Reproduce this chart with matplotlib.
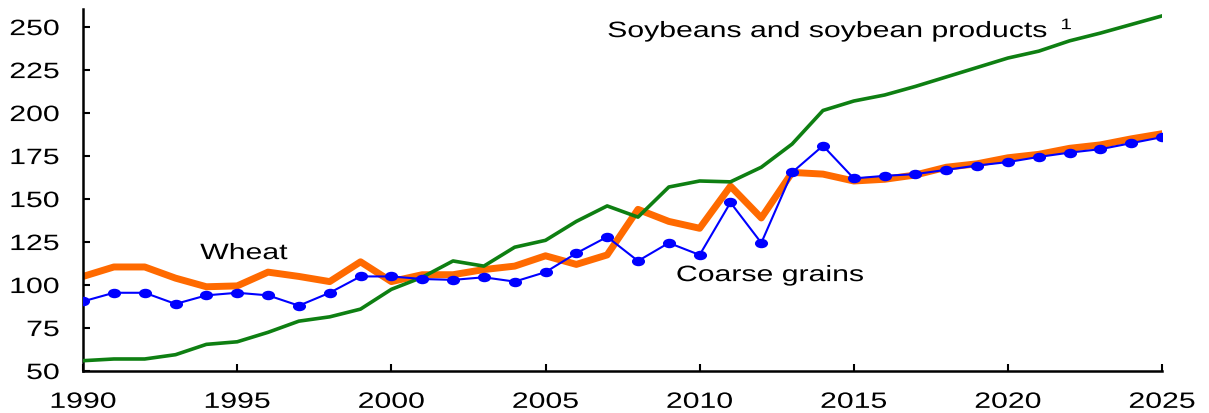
import matplotlib
matplotlib.use('Agg')
import matplotlib.pyplot as plt
from matplotlib import patheffects
from matplotlib.markers import MarkerStyle
from matplotlib.transforms import Affine2D

# data
years = list(range(1990, 2026))
wheat = [105, 110.5, 110.5, 104, 99, 99.5, 107.5, 105, 102, 113.5,
         102, 106, 106, 109, 111, 117, 112, 117.5, 144, 137,
         133, 157.5, 139, 165.5, 164.5, 160.5, 161.5, 164, 168.5, 170.5,
         174, 176, 179.5, 181.5, 185, 188]
coarse = [90.5, 95.5, 95.5, 89, 94, 95.5, 94, 88, 95.5, 105,
          105, 103.5, 103, 104.5, 102, 107.5, 118.5, 128, 114, 124.5,
          117.5, 148, 124.5, 165.5, 181, 162, 163.5, 164.5, 167, 169.5,
          171.5, 174.5, 177, 179, 182.5, 186]
soy = [56, 57, 57, 59.5, 65.5, 67, 72.5, 79, 81.5, 86,
       97.5, 104.5, 114, 111, 122, 126, 137, 146, 139.5, 157,
       160.5, 160, 168.5, 182, 201.5, 207, 210.5, 215.5, 221, 226.5,
       232, 236, 242, 246.5, 251.5, 256.5]

yticks = [50, 75, 100, 125, 150, 175, 200, 225, 250]
xticks = [1990, 1995, 2000, 2005, 2010, 2015, 2020, 2025]


# the original uses a horizontally widened Arial; widen the glyphs
class Stretch(patheffects.AbstractPathEffect):
    def __init__(self, sx, anchor='left'):
        super().__init__()
        self.sx = sx
        self.anchor = anchor

    def draw_path(self, renderer, gc, tpath, affine, rgbFace=None):
        ext = tpath.get_extents()
        if self.anchor == 'right':
            x0 = ext.x1
        elif self.anchor == 'center':
            x0 = (ext.x0 + ext.x1) / 2
        else:
            x0 = 0
        t = Affine2D().translate(-x0, 0).scale(self.sx, 1).translate(x0, 0) + affine
        renderer.draw_path(gc, tpath, t, rgbFace)


SX = 1.36
plt.rcParams['font.family'] = ['Liberation Sans', 'DejaVu Sans']

fig = plt.figure(figsize=(12.09, 4.14), dpi=100)
ax = fig.add_axes([0.0687, 0.1014, 0.8925, 0.8744])

ax.plot(years, wheat, color='#ff6a00', linewidth=5.0, solid_joinstyle='round', zorder=2)
ax.plot(years, soy, color='#0e7f12', linewidth=2.6, zorder=3)
dot = MarkerStyle('o', transform=Affine2D().scale(1.45, 1))
ax.plot(years, coarse, color='#0000ff', linewidth=1.5, marker=dot, markersize=5.8, zorder=4)

ax.set_xlim(1990, 2025)
ax.set_ylim(50, 260.5)
ax.set_xticks(xticks)
ax.set_yticks(yticks)
ax.tick_params(direction='in', length=5, width=1.5, labelsize=16)
ax.tick_params(axis='x', pad=15)
ax.tick_params(axis='y', pad=17)
for lab in ax.get_xticklabels():
    lab.set_path_effects([Stretch(SX, 'center')])
for lab in ax.get_yticklabels():
    lab.set_path_effects([Stretch(SX, 'right')])

ax.spines['top'].set_visible(False)
ax.spines['right'].set_visible(False)
ax.spines['left'].set_linewidth(1.8)
ax.spines['bottom'].set_linewidth(1.8)

labels = [
    (1993.8, 115.1, 'Wheat', 16),
    (2009.23, 102.3, 'Coarse grains', 16),
    (2007.0, 244.2, 'Soybeans and soybean products', 16),
    (2021.7, 248.8, '1', 11),
]
for x, y, s, size in labels:
    ax.text(x, y, s, fontsize=size, ha='left', va='baseline',
            path_effects=[Stretch(SX, 'left')])

fig.savefig('out.png', dpi=100)
